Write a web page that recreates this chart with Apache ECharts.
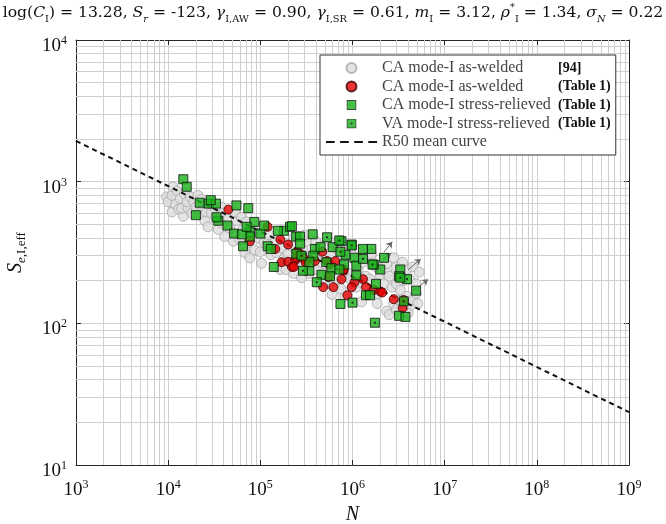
<!DOCTYPE html>
<html>
<head>
<meta charset="utf-8">
<script src="https://cdn.jsdelivr.net/npm/echarts@6/dist/echarts.min.js"></script>
<style>
html,body{margin:0;padding:0;background:#fff}
#main{width:666px;height:524px}
</style>
</head>
<body>
<div id="main"></div>
<script>
// data: [N, S_e,I,eff]
var refAsWelded = [
  [9.6e3,780],[1.0e4,720],[1.1e4,800],[1.13e4,920],[1.1e4,610],[1.2e4,690],[1.25e4,860],[1.35e4,760],
  [1.3e4,640],[1.46e4,570],[1.4e4,650],[1.5e4,820],[1.65e4,650],[1.6e4,720],[1.75e4,780],[1.9e4,720],
  [1.8e4,600],[2.1e4,800],[2.0e4,660],[2.3e4,750],[2.4e4,670],[2.5e4,530],[2.2e4,600],[2.7e4,480],
  [2.6e4,610],[2.95e4,600],[2.8e4,700],[3.2e4,650],[3.5e4,460],[3.3e4,560],[3.8e4,660],[3.8e4,510],
  [4.1e4,410],[4.0e4,600],[4.5e4,550],[4.7e4,470],[5.1e4,380],[5.5e4,530],[5.3e4,610],[6.0e4,390],
  [6.5e4,460],[6.2e4,560],[6.8e4,315],[7.0e4,520],[7.7e4,290],[7.5e4,370],[8.7e4,330],[8.5e4,450],
  [9.5e4,400],[1.0e5,320],[1.03e5,265],[1.1e5,370],[1.2e5,370],[1.3e5,305],[1.25e5,420],[1.5e5,315],
  [1.45e5,380],[1.8e5,285],[1.7e5,340],[1.65e5,240],[1.9e5,240],[2.0e5,310],[2.3e5,225],[2.3e5,400],
  [2.2e5,350],[2.6e5,265],[2.9e5,330],[2.8e5,210],[3.2e5,380],[3.4e5,225],[3.5e5,290],[4.1e5,240],
  [4.0e5,310],[4.8e5,225],[4.5e5,270],[5.0e5,355],[5.6e5,190],[5.8e5,300],[6.7e5,205],[6.5e5,250],
  [7.0e5,330],[8.3e5,155],[8.0e5,270],[9.0e5,225],[9.5e5,205],[1.0e6,300],[1.1e6,180],[1.15e6,240],
  [1.25e6,142],[1.3e6,270],[1.4e6,215],[1.55e6,205],[1.6e6,300],[1.8e6,250],[1.85e6,138],[1.9e6,162],
  [2.0e6,220],[2.2e6,190],[2.35e6,265],[2.35e6,122],[2.4e6,225],[2.5e6,215],[2.5e6,115],[2.7e6,180],
  [2.8e6,138],[3.0e6,190],[3.0e6,250],[3.3e6,172],[3.3e6,146],[3.6e6,200],[3.9e6,155],[3.9e6,240],
  [4.2e6,205],[4.2e6,132],[4.5e6,146],[4.9e6,190],[4.9e6,162],[5.1e6,138],[4.0e6,118],[3.0e6,125],
  [1.5e6,160],[1.2e6,195],[7.5e5,175],[6.0e5,160],[5.0e5,200],[3.0e5,420],[4.0e5,380],[6.0e5,370],
  [8.5e5,350],[1.2e6,330],[1.6e6,310],[2.8e6,290],[3.5e6,270],[4.5e6,250],[5.3e6,230]
];
var asWelded = [
  [4.5e4,635],[1.2e5,480],[7.7e4,380],[1.65e5,390],[2.0e5,360],[1.45e5,335],[2.5e5,320],[1.7e5,270],
  [2.0e5,272],[2.2e5,250],[2.4e5,280],[2.7e5,310],[2.5e5,290],[3.0e5,285],[3.1e5,270],[3.9e5,275],
  [4.7e5,320],[5.3e5,275],[5.6e5,260],[6.5e5,275],[8.0e5,235],[7.6e5,205],[1.05e6,195],[4.8e5,180],
  [6.2e5,180],[9.8e5,180],[1.3e6,205],[1.4e6,180],[1.7e6,172],[8.8e5,158],[2.0e6,168],[2.1e6,165],
  [2.8e6,148],[3.5e6,128],[3.6e6,146],[5.5e5,212],[2.3e5,250],[8.0e5,240]
];
var caStressRelieved = [
  [1.46e4,1040],[1.59e4,920],[2.2e4,710],[2.75e4,700],[3.3e4,700],[2.9e4,740],[2.0e4,580],[5.5e4,680],
  [7.4e4,650],[3.5e4,530],[4.4e4,490],[5.2e4,430],[8.6e4,520],[7.7e4,440],[7.7e4,410],[1.0e5,430],
  [1.1e5,490],[6.5e4,350],[1.8e5,450],[2.1e5,480],[1.2e5,350],[1.4e5,250],[2.45e5,410],[2.45e5,310],
  [3.35e4,560],[6.3e4,425],[7.1e4,480],[1.55e5,450],[1.3e5,335],[3.9e5,335],[3.4e5,235],[4.6e5,220],
  [2.2e5,485],[2.7e5,410],[3.7e5,425],[9.8e5,360],[1.6e6,335],[2.7e5,365],[4.5e5,345],[6.1e5,345],
  [1.3e6,335],[1.05e6,290],[2.2e6,290],[2.0e6,240],[3.75e5,300],[3.4e5,270],[5.2e5,270],[5.9e5,245],
  [8.1e5,260],[1.1e6,255],[5.7e5,215],[7.2e5,240],[1.4e6,158],[1.55e6,158],[7.4e5,137],[3.3e6,240],
  [3.2e6,215],[4.9e6,170],[3.2e6,113],[3.75e6,111],[1.8e6,190],[1.1e6,218],[7.6e5,380],[8.4e5,305],
  [1.7e6,260]
];
var vaStressRelieved = [
  [5.3e5,405],[7.2e5,385],[7.4e5,320],[1.3e6,285],[1.65e6,260],[2.8e5,300],[2.9e5,235],[4.1e5,195],
  [1.0e6,140],[1.75e6,101],[3.9e6,205],[3.6e6,143],[9.8e5,355],[3.3e6,210]
];
// run-outs: [start, end]
var runOuts = [
  [[2.2e6,319],[2.7e6,376]],
  [[2.14e6,285],[2.63e6,314]],
  [[4.0e6,238],[5.5e6,285]],
  [[5.1e6,178],[6.6e6,205]]
];
var meanCurve = [[1e3,1940],[1e9,23.6]];

var serif = "'Liberation Serif','DejaVu Serif',serif";
var titleFont = "'DejaVu Serif','Liberation Serif',serif";
var gridColor = '#cfcfcf';
var axisColor = '#262626';

var chart = echarts.init(document.getElementById('main'));

// minor log grid lines 2..9 in each decade
var minorX = [], minorY = [];
for (var d = 3; d < 9; d++) for (var k = 2; k < 10; k++) minorX.push({xAxis: k * Math.pow(10, d)});
for (var d2 = 1; d2 < 4; d2++) for (var k2 = 2; k2 < 10; k2++) minorY.push({yAxis: k2 * Math.pow(10, d2)});

function powLabel(v) {
  var e = Math.round(Math.log10(v));
  return '{b|10}{e|' + e + '}';
}
var powRich = {
  b: {fontFamily: serif, fontSize: 19, color: '#111', lineHeight: 22},
  e: {fontFamily: serif, fontSize: 12, color: '#111', lineHeight: 12, verticalAlign: 'top'}
};

function svgIcon(dot) {
  var s = "<svg xmlns='http://www.w3.org/2000/svg' width='10' height='10'>" +
    "<rect x='0.5' y='0.5' width='9' height='9' fill='#19b219' stroke='#111'/>" +
    (dot ? "<rect x='4' y='4' width='2' height='2' fill='#111'/>" : '') + "</svg>";
  return 'image://data:image/svg+xml;charset=utf-8,' + encodeURIComponent(s);
}
var dashIcon = 'path://M0,0H8V2H0Z M13,0H21V2H13Z M26,0H34V2H26Z M39,0H47V2H39Z';

var legendText = {
  ref: '{a|CA mode-I as-welded}{b|[94]}',
  aw: '{a|CA mode-I as-welded}{b|(Table 1)}',
  ca: '{a|CA mode-I stress-relieved}{b|(Table 1)}',
  va: '{a|VA mode-I stress-relieved}{b|(Table 1)}',
  mean: '{a|R50 mean curve}'
};

var option = {
  animation: false,
  backgroundColor: '#fff',
  title: {
    text: 'log({i|C}{s|I}) = 13.28, {i|S}{si|r} = -123, {i|γ}{s|I,AW} = 0.90, {i|γ}{s|I,SR} = 0.61, ' +
          '{i|m}{s|I} = 3.12, {i|ρ}{p|*}{s|I} = 1.34, {i|σ}{si|N} = 0.22',
    left: 'center',
    top: 2,
    padding: 0,
    textStyle: {
      fontFamily: titleFont, fontSize: 15.6, fontWeight: 'normal', color: '#111', lineHeight: 22,
      rich: {
        i: {fontFamily: titleFont, fontSize: 15.6, fontStyle: 'italic', color: '#111', lineHeight: 22},
        s: {fontFamily: titleFont, fontSize: 9.8, color: '#111', lineHeight: 10, verticalAlign: 'bottom'},
        si: {fontFamily: titleFont, fontSize: 9.8, fontStyle: 'italic', color: '#111', lineHeight: 10, verticalAlign: 'bottom'},
        p: {fontFamily: titleFont, fontSize: 9.8, color: '#111', lineHeight: 10, verticalAlign: 'top'}
      }
    }
  },
  legend: {
    left: 320, top: 55, orient: 'vertical', z: 10,
    itemWidth: 51, itemHeight: 10, itemGap: 2.5,
    padding: [5, 5, 5, 6],
    borderColor: '#333', borderWidth: 1, backgroundColor: '#fff',
    formatter: function (name) { return legendText[name]; },
    textStyle: {
      fontFamily: serif, fontSize: 16, color: '#444', lineHeight: 16,
      rich: {
        a: {fontFamily: serif, fontSize: 16, color: '#444', width: 176, lineHeight: 16},
        b: {fontFamily: serif, fontSize: 14, color: '#111', fontWeight: 'bold', lineHeight: 16}
      }
    },
    data: [
      {name: 'ref'}, {name: 'aw'}, {name: 'ca', icon: svgIcon(false)},
      {name: 'va', icon: svgIcon(true)}, {name: 'mean', icon: dashIcon}
    ]
  },
  grid: {left: 76, right: 37, top: 40, bottom: 59, outerBoundsMode: 'none'},
  xAxis: [{
    type: 'log', logBase: 10, min: 1e3, max: 1e9,
    name: '{i|N}', nameLocation: 'middle', nameGap: 38,
    nameTextStyle: {rich: {i: {fontFamily: serif, fontSize: 20, fontStyle: 'italic', color: '#111'}}},
    axisLine: {lineStyle: {color: axisColor, width: 1}},
    axisTick: {inside: true, length: 5, lineStyle: {color: axisColor}},
    axisLabel: {margin: 14, formatter: powLabel, rich: powRich},
    splitLine: {show: true, lineStyle: {color: gridColor, width: 1}}
  }, {
    type: 'log', logBase: 10, min: 1e3, max: 1e9, position: 'top',
    axisLine: {lineStyle: {color: axisColor, width: 1}},
    axisTick: {inside: true, length: 5, lineStyle: {color: axisColor}},
    axisLabel: {show: false}, splitLine: {show: false}
  }],
  yAxis: [{
    type: 'log', logBase: 10, min: 10, max: 1e4,
    name: '{i|S}{si|e}{s|,I,eff}', nameLocation: 'middle', nameGap: 48, nameRotate: 90,
    nameTextStyle: {rich: {
      i: {fontFamily: serif, fontSize: 20, fontStyle: 'italic', color: '#111', lineHeight: 24},
      si: {fontFamily: serif, fontSize: 13, fontStyle: 'italic', color: '#111', lineHeight: 13, verticalAlign: 'bottom'},
      s: {fontFamily: serif, fontSize: 13, color: '#111', lineHeight: 13, verticalAlign: 'bottom'}
    }},
    axisLine: {lineStyle: {color: axisColor, width: 1}},
    axisTick: {inside: true, length: 5, lineStyle: {color: axisColor}},
    axisLabel: {margin: 9, padding: [12, 0, 0, 0], formatter: powLabel, rich: powRich},
    splitLine: {show: true, lineStyle: {color: gridColor, width: 1}}
  }, {
    type: 'log', logBase: 10, min: 10, max: 1e4, position: 'right',
    axisLine: {lineStyle: {color: axisColor, width: 1}},
    axisTick: {inside: true, length: 5, lineStyle: {color: axisColor}},
    axisLabel: {show: false}, splitLine: {show: false}
  }],
  series: [
    {
      name: 'minor-grid', type: 'line', data: [], silent: true, z: 1,
      markLine: {
        silent: true, z: 1, symbol: ['none', 'none'], animation: false,
        label: {show: false}, emphasis: {disabled: true},
        lineStyle: {color: gridColor, type: 'solid', width: 1},
        data: minorX.concat(minorY)
      }
    },
    {
      name: 'ref', type: 'scatter', data: refAsWelded, symbol: 'circle', symbolSize: 10, z: 2,
      itemStyle: {color: '#dddddd', borderColor: '#a8a8a8', borderWidth: 1}
    },
    {
      name: 'mean', type: 'line', data: meanCurve, symbol: 'none', z: 3,
      lineStyle: {color: '#111', width: 2, type: [5, 4]}, itemStyle: {color: '#111'}
    },
    {
      name: 'runout', type: 'lines', coordinateSystem: 'cartesian2d', z: 3,
      symbol: ['none', 'arrow'], symbolSize: 6,
      lineStyle: {color: '#6a6a6a', width: 1, opacity: 1},
      data: runOuts.map(function (c) { return {coords: c}; })
    },
    {
      name: 'aw', type: 'scatter', data: asWelded, symbol: 'circle', symbolSize: 9, z: 4,
      itemStyle: {color: '#e60000', borderColor: '#3a0000', borderWidth: 1}
    },
    {
      name: 'ca', type: 'scatter', data: caStressRelieved, symbol: 'rect', symbolSize: 9, z: 5,
      itemStyle: {color: '#19b219', borderColor: '#111', borderWidth: 1}
    },
    {
      name: 'va', type: 'scatter', data: vaStressRelieved, symbol: 'rect', symbolSize: 9, z: 5,
      itemStyle: {color: '#19b219', borderColor: '#111', borderWidth: 1}
    },
    {
      name: 'va-dot', type: 'scatter', data: vaStressRelieved, symbol: 'rect', symbolSize: 2, z: 6,
      silent: true, itemStyle: {color: '#111'}
    }
  ]
};

chart.setOption(option);
</script>
</body>
</html>
